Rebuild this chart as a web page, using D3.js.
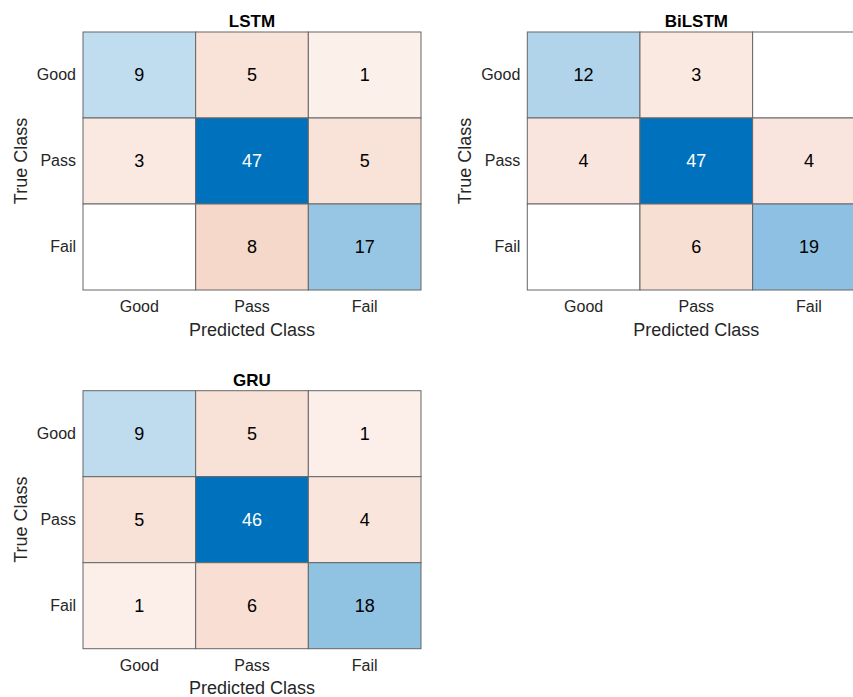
<!DOCTYPE html>
<html>
<head>
<meta charset="utf-8">
<script src="https://cdn.jsdelivr.net/npm/d3@7"></script>
<style>
  html, body { margin: 0; padding: 0; background: #fff; }
  svg { display: block; font-family: "Liberation Sans", Arial, Helvetica, sans-serif; }
</style>
</head>
<body>
<svg id="chart" width="853" height="697"></svg>
<script>
// Class labels (rows = true class, columns = predicted class)
const classes = ["Good", "Pass", "Fail"];

// Confusion matrices per model
const lstmCounts = [
  [9, 5, 1],
  [3, 47, 5],
  [0, 8, 17]
];
const bilstmCounts = [
  [12, 3, 0],
  [4, 47, 4],
  [0, 6, 19]
];
const gruCounts = [
  [9, 5, 1],
  [5, 46, 4],
  [1, 6, 18]
];

const modelNames = ["LSTM", "BiLSTM", "GRU"];
const modelCounts = [lstmCounts, bilstmCounts, gruCounts];

const svg = d3.select("#chart");

// panel placement
const panelW = 338, panelH = 258;
const panelOrigins = [[83, 32], [527.3, 32], [83, 390.7]];

const diagColor = "#0072BD";
const offColor = "#D95319";
const borderColor = "#666666";
const labelColor = "#262626";

modelCounts.forEach((counts, i) => {
  const [ox, oy] = panelOrigins[i];
  const g = svg.append("g").attr("transform", `translate(${ox},${oy})`);

  const x = d3.scaleBand().domain(classes).range([0, panelW]);
  const y = d3.scaleBand().domain(classes).range([0, panelH]);

  // non-zero counts get a tint that starts slightly above white
  const maxVal = d3.max(counts.flat());
  const shade = d3.scaleLinear().domain([0, maxVal]).range([0.07, 1]);

  const cells = [];
  counts.forEach((row, r) => row.forEach((v, c) => {
    cells.push({ t: classes[r], p: classes[c], v, diag: r === c });
  }));

  const cg = g.selectAll("g.cell").data(cells).join("g").attr("class", "cell");

  cg.append("rect")
    .attr("x", d => x(d.p))
    .attr("y", d => y(d.t))
    .attr("width", x.bandwidth())
    .attr("height", y.bandwidth())
    .attr("fill", d => d.v === 0 ? "#ffffff"
      : d3.interpolateRgb("#ffffff", d.diag ? diagColor : offColor)(shade(d.v)))
    .attr("stroke", borderColor)
    .attr("stroke-width", 1);

  cg.filter(d => d.v > 0).append("text")
    .attr("x", d => x(d.p) + x.bandwidth() / 2)
    .attr("y", d => y(d.t) + y.bandwidth() / 2)
    .attr("text-anchor", "middle")
    .attr("dy", "0.36em")
    .attr("font-size", 18)
    .attr("fill", d => shade(d.v) > 0.6 ? "#ffffff" : "#000000")
    .text(d => d.v);

  // y axis: true class
  const yAxis = g.append("g")
    .call(d3.axisLeft(y).tickSize(0).tickPadding(7));
  yAxis.select(".domain").remove();
  yAxis.selectAll("text").attr("font-size", 16).attr("fill", labelColor)
    .attr("font-family", "Liberation Sans, Arial, sans-serif");

  // x axis: predicted class
  const xAxis = g.append("g")
    .attr("transform", `translate(0,${panelH})`)
    .call(d3.axisBottom(x).tickSize(0).tickPadding(11));
  xAxis.select(".domain").remove();
  xAxis.selectAll("text").attr("font-size", 16).attr("fill", labelColor)
    .attr("font-family", "Liberation Sans, Arial, sans-serif");

  // title
  g.append("text")
    .attr("x", panelW / 2)
    .attr("y", -5)
    .attr("text-anchor", "middle")
    .attr("font-size", 17)
    .attr("font-weight", "bold")
    .attr("fill", "#000")
    .text(modelNames[i]);

  // axis titles
  g.append("text")
    .attr("x", panelW / 2)
    .attr("y", panelH + 45.5)
    .attr("text-anchor", "middle")
    .attr("font-size", 18)
    .attr("fill", labelColor)
    .text("Predicted Class");

  g.append("text")
    .attr("transform", `translate(-56,${panelH / 2}) rotate(-90)`)
    .attr("text-anchor", "middle")
    .attr("font-size", 18)
    .attr("fill", labelColor)
    .text("True Class");
});
</script>
</body>
</html>
